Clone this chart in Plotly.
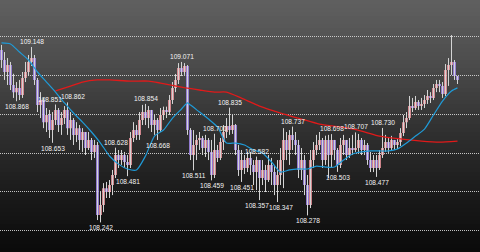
import plotly.graph_objects as go

# ---------------- data (USD/JPY style candles) ----------------
first_open = 109.133
closes = [109.081,109.019,109.055,108.952,108.915,108.936,108.900,108.988,109.019,109.071,
          109.091,108.978,108.849,108.874,108.760,108.797,108.719,108.771,108.823,108.745,
          108.781,108.823,108.729,108.771,108.694,108.729,108.668,108.709,108.626,108.668,
          108.606,108.642,108.280,108.332,108.419,108.399,108.435,108.487,108.590,108.564,
          108.590,108.554,108.539,108.678,108.719,108.694,108.771,108.812,108.781,108.823,
          108.745,108.771,108.719,108.797,108.823,108.812,108.874,108.936,108.978,109.040,
          109.019,109.050,108.719,108.590,108.642,108.668,108.678,108.626,108.668,108.606,
          108.487,108.616,108.575,108.657,108.709,108.740,108.719,108.745,108.616,108.513,
          108.564,108.523,108.575,108.539,108.502,108.564,108.471,108.513,108.461,108.539,
          108.502,108.435,108.487,108.564,108.668,108.616,108.694,108.668,108.642,108.513,
          108.564,108.435,108.332,108.564,108.616,108.642,108.668,108.564,108.668,108.590,
          108.668,108.616,108.539,108.642,108.668,108.590,108.626,108.616,108.626,108.668,
          108.616,108.642,108.564,108.523,108.564,108.523,108.590,108.626,108.657,108.626,
          108.668,108.642,108.657,108.704,108.760,108.781,108.843,108.833,108.864,108.843,
          108.854,108.874,108.895,108.885,108.936,108.957,108.947,108.905,109.029,109.055,
          109.071,108.998,108.978]
highs = [109.159,109.122,109.091,109.071,109.010,108.967,108.978,109.019,109.071,109.107,
         109.148,109.107,108.988,108.915,108.885,108.833,108.823,108.812,108.851,108.833,
         108.812,108.843,108.862,108.812,108.781,108.760,108.745,108.729,108.694,108.709,
         108.678,108.668,108.657,108.400,108.445,108.451,108.461,108.513,108.628,108.616,
         108.616,108.606,108.590,108.709,108.760,108.745,108.812,108.849,108.854,108.843,
         108.823,108.797,108.781,108.833,108.840,108.840,108.900,108.967,109.009,109.065,
         109.071,109.065,109.055,108.729,108.719,108.694,108.709,108.689,108.694,108.678,
         108.668,108.700,108.642,108.678,108.745,108.781,108.835,108.797,108.750,108.642,
         108.616,108.590,108.606,108.606,108.564,108.582,108.564,108.564,108.539,108.590,
         108.575,108.539,108.564,108.626,108.729,108.709,108.719,108.737,108.709,108.668,
         108.626,108.590,108.487,108.616,108.657,108.694,108.709,108.678,108.690,108.694,
         108.698,108.668,108.626,108.678,108.694,108.657,108.678,108.694,108.707,108.699,
         108.678,108.668,108.652,108.606,108.590,108.590,108.616,108.730,108.694,108.678,
         108.689,108.668,108.678,108.729,108.797,108.812,108.895,108.885,108.895,108.874,
         108.885,108.900,108.926,108.915,108.957,108.978,108.978,108.967,109.060,109.091,
         109.210,109.081,108.998]
lows = [109.040,108.978,108.952,108.926,108.885,108.868,108.874,108.885,108.967,108.998,
        109.050,108.952,108.812,108.781,108.729,108.709,108.678,108.653,108.745,108.709,
        108.694,108.750,108.694,108.668,108.642,108.657,108.616,108.606,108.590,108.616,
        108.564,108.575,108.254,108.242,108.295,108.368,108.368,108.383,108.471,108.523,
        108.539,108.523,108.481,108.523,108.657,108.668,108.668,108.745,108.745,108.729,
        108.709,108.694,108.668,108.709,108.771,108.781,108.797,108.854,108.915,108.957,
        108.998,109.004,108.694,108.564,108.511,108.564,108.616,108.590,108.580,108.564,
        108.459,108.471,108.554,108.564,108.616,108.678,108.694,108.699,108.590,108.482,
        108.451,108.492,108.502,108.487,108.435,108.409,108.357,108.435,108.399,108.451,
        108.435,108.383,108.347,108.435,108.419,108.564,108.539,108.616,108.590,108.471,
        108.461,108.383,108.278,108.316,108.523,108.590,108.616,108.523,108.539,108.471,
        108.523,108.564,108.503,108.523,108.590,108.564,108.575,108.590,108.606,108.606,
        108.590,108.590,108.539,108.502,108.502,108.477,108.513,108.575,108.606,108.601,
        108.616,108.616,108.621,108.637,108.688,108.729,108.771,108.812,108.823,108.823,
        108.823,108.833,108.854,108.859,108.874,108.915,108.915,108.885,108.895,108.947,
        109.004,108.978,108.957]

# short moving average (blue)
blue_idx = [0,3,6,9,12,15,18,21,24,27,30,33,36,39,42,45,48,51,54,57,60,62,63,66,69,72,75,
            78,81,84,87,90,93,96,99,102,105,108,111,114,117,120,123,126,129,132,135,138,
            141,144,147,150,152]
blue_ma = [109.169,109.164,109.122,109.081,109.019,108.967,108.915,108.859,108.807,108.760,
           108.709,108.652,108.585,108.543,108.518,108.513,108.585,108.688,108.719,108.781,
           108.828,108.859,108.848,108.812,108.776,108.735,108.652,108.652,108.642,108.616,
           108.600,108.554,108.502,108.513,108.518,108.518,108.533,108.528,108.528,108.564,
           108.595,108.606,108.611,108.611,108.611,108.621,108.652,108.688,108.724,108.797,
           108.869,108.921,108.937]
# long moving average (red)
red_idx = [18,23,27,32,36,43,49,53,60,66,71,75,80,86,93,100,106,113,120,126,133,140,146,152]
red_ma = [108.921,108.946,108.967,108.978,108.978,108.972,108.972,108.962,108.941,108.926,
          108.915,108.915,108.884,108.843,108.807,108.776,108.750,108.735,108.714,108.688,
          108.673,108.662,108.657,108.662]

# high / low labels
label_idx = [10,5,18,22,17,33,38,42,48,52,60,64,70,71,76,80,85,86,92,97,102,110,112,118,125,127]
label_val = [109.148,108.868,108.851,108.862,108.653,108.242,108.628,108.481,108.854,108.668,
             109.071,108.511,108.459,108.700,108.835,108.451,108.582,108.357,108.347,108.737,
             108.278,108.698,108.503,108.707,108.477,108.730]
label_kind = ['H','L','H','H','L','L','H','L','H','L','H','L','L','H','H','L','H','L','L',
              'H','L','H','L','H','L','H']
# small horizontal nudges (pixels) so that neighbouring labels do not collide
label_nudge = {108.851: -6, 108.862: 5, 108.357: -3, 108.347: 3}

grid_levels = [108.2, 108.4, 108.6, 108.8, 109.0, 109.2]

# ---------------- build ----------------
n = len(closes)
idx = list(range(n))
opens = [first_open] + closes[:-1]
highs = [max(h, o, c) for h, o, c in zip(highs, opens, closes)]
lows = [min(l, o, c) for l, o, c in zip(lows, opens, closes)]

fig = go.Figure()

# wicks
fig.add_trace(go.Ohlc(x=idx, open=opens, high=highs, low=lows, close=closes,
                      tickwidth=0,
                      increasing=dict(line=dict(color='#d4d4d4', width=1)),
                      decreasing=dict(line=dict(color='#d4d4d4', width=1)),
                      hoverinfo='skip', showlegend=False))
# bodies
fig.add_trace(go.Candlestick(x=idx, open=opens, high=highs, low=lows, close=closes,
                             increasing=dict(fillcolor='#f59aa2', line=dict(color='#f59aa2', width=0)),
                             decreasing=dict(fillcolor='#a88cf2', line=dict(color='#a88cf2', width=0)),
                             whiskerwidth=0, hoverinfo='skip', showlegend=False))

fig.add_trace(go.Scatter(x=red_idx, y=red_ma, mode='lines', line=dict(color='#e01a1a', width=1.3, shape='spline', smoothing=0.6),
                         hoverinfo='skip', showlegend=False))
fig.add_trace(go.Scatter(x=blue_idx, y=blue_ma, mode='lines', line=dict(color='#1f9bd8', width=1.2, shape='spline', smoothing=0.6),
                         hoverinfo='skip', showlegend=False))

for i, v, k in zip(label_idx, label_val, label_kind):
    fig.add_annotation(x=i, y=v, text=f"{v:.3f}", showarrow=False,
                       yanchor='bottom' if k == 'H' else 'top',
                       yshift=0, xshift=label_nudge.get(v, 0), xanchor='center',
                       font=dict(family='Liberation Sans, Arial, sans-serif', size=6.6, color='#f4f4f4'))

# background gradient (styling)
shapes = []
steps = 63
stops = [(0.0, 96), (0.25, 76), (0.5, 50), (0.75, 28), (1.0, 10)]
def shade(t):
    for (t0, g0), (t1, g1) in zip(stops[:-1], stops[1:]):
        if t <= t1:
            return g0 + (g1 - g0) * (t - t0) / (t1 - t0)
    return stops[-1][1]
for k in range(steps):
    t = (k + 0.5) / steps
    g = int(round(shade(t)))
    shapes.append(dict(type='rect', xref='paper', yref='paper', x0=0, x1=1,
                       y0=1 - (k + 1) / steps - 0.001, y1=1 - k / steps,
                       fillcolor=f'rgb({g},{g},{g})', line=dict(width=0), layer='below'))

fig.update_layout(
    width=480, height=252, margin=dict(l=0, r=0, t=0, b=0),
    paper_bgcolor='#000000', plot_bgcolor='rgba(0,0,0,0)',
    shapes=shapes, boxgap=0.12, boxgroupgap=0,
    xaxis=dict(range=[-0.5, 159.5], visible=False, rangeslider=dict(visible=False), fixedrange=True),
    yaxis=dict(range=[108.089, 109.391], showticklabels=False, ticks='', zeroline=False,
               tickmode='array', tickvals=grid_levels, showgrid=True,
               gridcolor='rgba(215,215,215,0.9)', gridwidth=1, griddash='1px,1px', fixedrange=True),
    showlegend=False,
)

fig.write_html("out.html")
